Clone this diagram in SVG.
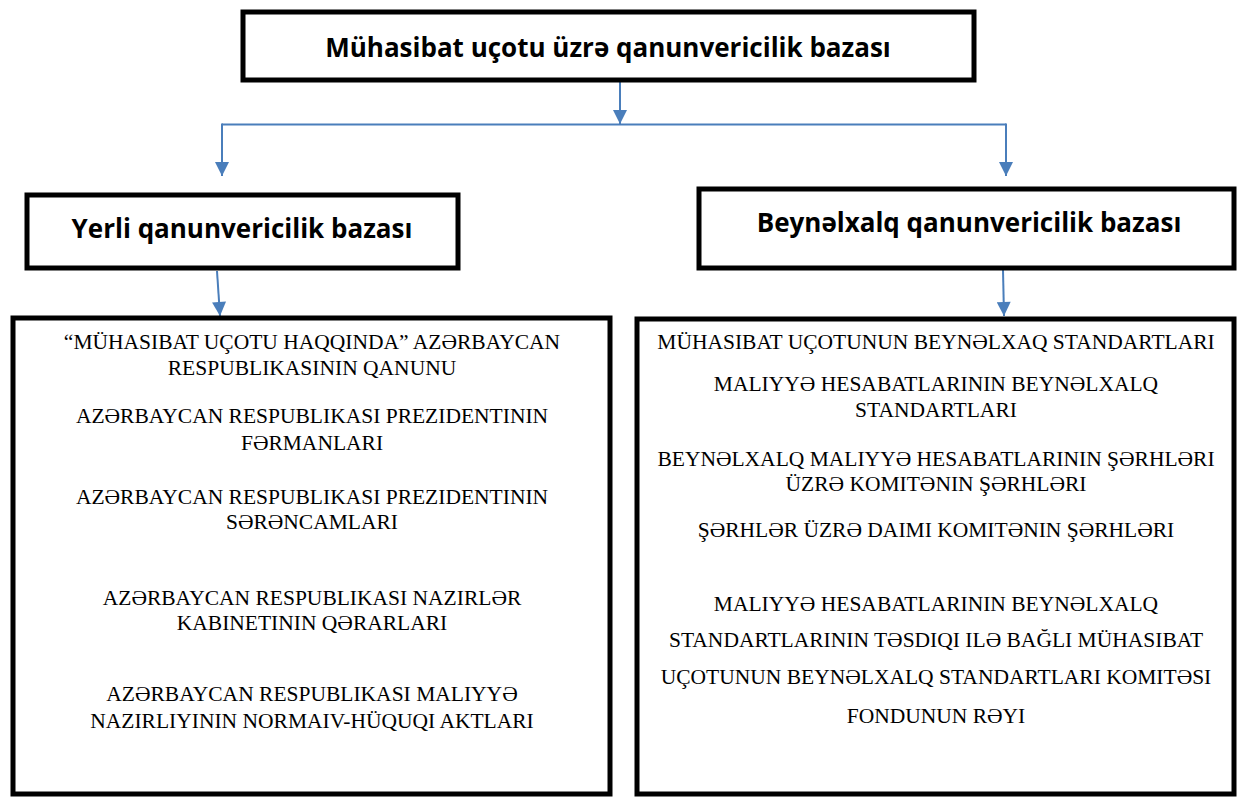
<svg xmlns="http://www.w3.org/2000/svg" width="1238" height="797" viewBox="0 0 1238 797">
<defs>
<marker id="arr" viewBox="0 0 10 10" refX="10" refY="5" markerWidth="15" markerHeight="14" markerUnits="userSpaceOnUse" orient="auto">
<path d="M0,0 L10,5 L0,10 z" fill="#4A7EBB"/>
</marker>
<style>
.box{fill:#fff;stroke:#000;stroke-width:5}
.h{font-family:"Open Sans","Liberation Sans",sans-serif;font-weight:bold;font-size:26px;fill:#000;text-anchor:middle}
.t{font-family:"Liberation Serif","DejaVu Serif",serif;font-size:21.5px;fill:#000;text-anchor:middle}
.c{fill:none;stroke:#4A7EBB;stroke-width:2}
.a{fill:none;stroke:#4A7EBB;stroke-width:2;marker-end:url(#arr)}
</style>
</defs>
<rect width="1238" height="797" fill="#fff"/>
<g id="connectors">
<line class="a" x1="620" y1="80" x2="620" y2="124"/>
<polyline class="c" points="222,124.5 1006,124.5"/>
<line class="a" x1="222" y1="123.5" x2="222" y2="176"/>
<line class="a" x1="1006" y1="123.5" x2="1006" y2="176"/>
<line class="a" x1="217" y1="271" x2="220" y2="316"/>
<line class="a" x1="1003" y1="270" x2="1004" y2="316"/>
</g>
<g id="root">
<rect class="box" x="243" y="12" width="731" height="68"/>
<text class="h" x="608" y="57">Mühasibat uçotu üzrə qanunvericilik bazası</text>
</g>
<g id="local">
<rect class="box" x="27" y="195" width="431" height="73"/>
<text class="h" x="242" y="238">Yerli qanunvericilik bazası</text>
</g>
<g id="intl">
<rect class="box" x="699" y="189" width="535" height="79"/>
<text class="h" x="969" y="232">Beynəlxalq qanunvericilik bazası</text>
</g>
<g id="local-list">
<rect class="box" x="13" y="318" width="597" height="476"/>
<text class="t" x="312" y="349">“MÜHASIBAT UÇOTU HAQQINDA” AZƏRBAYCAN</text>
<text class="t" x="312" y="375">RESPUBLIKASININ QANUNU</text>
<text class="t" x="312" y="423">AZƏRBAYCAN RESPUBLIKASI PREZIDENTININ</text>
<text class="t" x="312" y="450">FƏRMANLARI</text>
<text class="t" x="312" y="504">AZƏRBAYCAN RESPUBLIKASI PREZIDENTININ</text>
<text class="t" x="312" y="529">SƏRƏNCAMLARI</text>
<text class="t" x="312" y="605">AZƏRBAYCAN RESPUBLIKASI NAZIRLƏR</text>
<text class="t" x="312" y="630">KABINETININ QƏRARLARI</text>
<text class="t" x="312" y="701">AZƏRBAYCAN RESPUBLIKASI MALIYYƏ</text>
<text class="t" x="312" y="728">NAZIRLIYININ NORMAIV-HÜQUQI AKTLARI</text>
</g>
<g id="intl-list">
<rect class="box" x="637" y="319" width="597" height="475"/>
<text class="t" x="936" y="349">MÜHASIBAT UÇOTUNUN BEYNƏLXAQ STANDARTLARI</text>
<text class="t" x="936" y="391">MALIYYƏ HESABATLARININ BEYNƏLXALQ</text>
<text class="t" x="936" y="417">STANDARTLARI</text>
<text class="t" x="936" y="466">BEYNƏLXALQ MALIYYƏ HESABATLARININ ŞƏRHLƏRI</text>
<text class="t" x="936" y="491">ÜZRƏ KOMITƏNIN ŞƏRHLƏRI</text>
<text class="t" x="936" y="537">ŞƏRHLƏR ÜZRƏ DAIMI KOMITƏNIN ŞƏRHLƏRI</text>
<text class="t" x="936" y="611">MALIYYƏ HESABATLARININ BEYNƏLXALQ</text>
<text class="t" x="936" y="647">STANDARTLARININ TƏSDIQI ILƏ BAĞLI MÜHASIBAT</text>
<text class="t" x="936" y="684">UÇOTUNUN BEYNƏLXALQ STANDARTLARI KOMITƏSI</text>
<text class="t" x="936" y="723">FONDUNUN RƏYI</text>
</g>
</svg>
